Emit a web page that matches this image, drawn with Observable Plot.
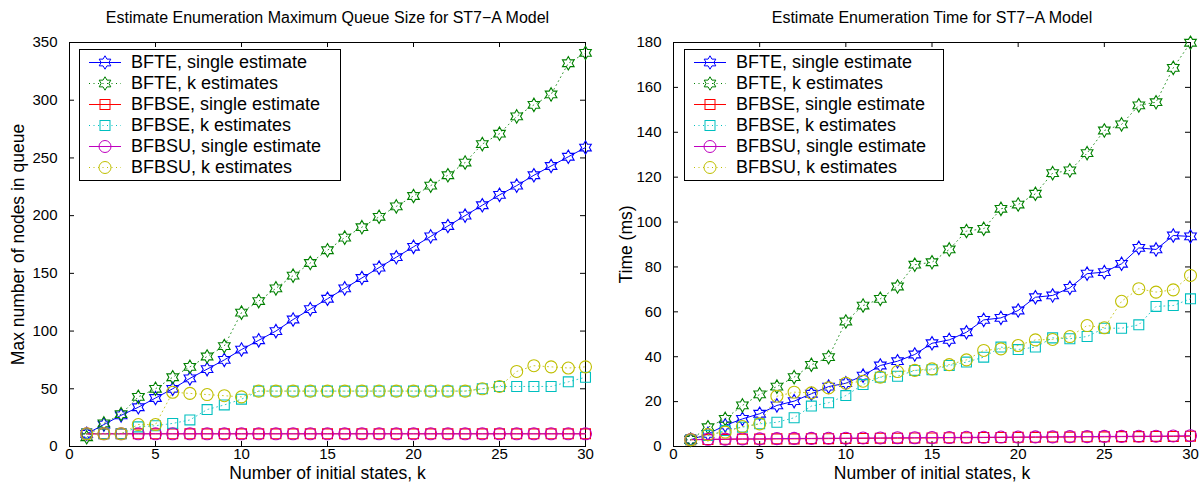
<!DOCTYPE html>
<html><head><meta charset="utf-8">
<script src="https://cdn.jsdelivr.net/npm/d3@7"></script>
<script src="https://cdn.jsdelivr.net/npm/@observablehq/plot@0.6"></script>
<style>
body{margin:0;background:#fff;}
#wrap{display:flex;width:1204px;height:493px;}
.panel{position:relative;width:602px;height:493px;}
.legend{position:absolute;border:1px solid #000;background:#fff;font-family:"Liberation Sans",Arial,sans-serif;font-size:18px;padding:2px 0;color:#000;}
.row{display:flex;align-items:center;height:21px;white-space:nowrap;}
.row svg{flex:none;margin-right:5px;}
</style></head><body><div id="wrap"><div class="panel" id="p1"></div><div class="panel" id="p2"></div></div>
<script>
// ---------- data ----------
const kValues = [1,2,3,4,5,6,7,8,9,10,11,12,13,14,15,16,17,18,19,20,21,22,23,24,25,26,27,28,29,30];
const seriesNames = ["BFTE, single estimate","BFTE, k estimates","BFBSE, single estimate","BFBSE, k estimates","BFBSU, single estimate","BFBSU, k estimates"];

// Left chart: maximum queue size
const queueBfteSingle = [11,19,27,34,42,50,59,67,75,84,92,100,110,119,128,137,146,155,164,173,182,191,200,209,218,226,235,243,251,259];
const queueBfteK      = [8,20,28,43,50,60,69,78,87,116,126,137,148,159,170,181,190,199,208,217,226,235,246,262,271,286,296,305,332,341];
const queueBfbseSingle= [11,11,11,11,11,11,11,11,11,11,11,11,11,11,11,11,11,11,11,11,11,11,11,11,11,11,11,11,11,11];
const queueBfbseK     = [11,11,11,17,18,20,23,32,36,41,48,48,48,48,48,48,48,48,48,48,48,48,48,50,52,52,52,52,56,60];
const queueBfbsuSingle= [11,11,11,11,11,11,11,11,11,11,11,11,11,11,11,11,11,11,11,11,11,11,11,11,11,11,11,11,11,11];
const queueBfbsuK     = [11,11,11,19,19,47,46,45,44,43,48,48,48,48,48,48,48,48,48,48,48,48,48,50,52,65,70,69,68,69];

// Right chart: time (ms)
const timeBfteSingle  = [3,5.6,9.4,12.3,14.6,18.3,20.2,23.5,26.7,28.2,31.6,36.1,38,41,46,47.5,50.9,56.4,57.3,60.6,66.5,67.3,70.7,77,77.7,81.4,88.5,87.8,94,93.6];
const timeBfteK       = [3,8.6,12.3,18.3,23.2,26.7,30.9,36.4,39.8,55.7,62.8,65.8,71.3,81,82.1,87.8,96,97,105.9,107.8,112.6,121.8,123,130.7,140.8,143.5,152,153.4,168.7,179.9];
const timeBfbseSingle = [3,3.1,3.2,3.3,3.3,3.4,3.4,3.5,3.5,3.6,3.6,3.7,3.7,3.8,3.8,3.9,3.9,4,4,4.1,4.1,4.2,4.2,4.3,4.3,4.4,4.4,4.5,4.5,4.6];
const timeBfbseK      = [3,4.9,7.1,8.6,10.1,10.8,12.8,18,19.5,22.7,27.6,30.9,31.3,33.9,34.2,36.1,37.6,39.8,44.3,43.2,44.3,48.4,48,49,52.7,52.7,54.2,62.4,62.8,65.8];
const timeBfbsuSingle = [3.1,3.2,3.3,3.4,3.4,3.5,3.6,3.6,3.7,3.7,3.8,3.8,3.9,3.9,4,4,4.1,4.1,4.2,4.2,4.3,4.3,4.4,4.4,4.5,4.5,4.6,4.6,4.7,4.8];
const timeBfbsuK      = [3,5.3,6.4,8.9,10.1,22.4,24.2,23.9,26.1,28.2,29.1,30.9,33.4,33.9,34.6,36.5,38.6,42.8,43.5,45,47.5,47.7,49,53.9,52.9,64.7,70.3,68.8,69.8,76.2];

const xTicks = [0,5,10,15,20,25,30];
const queueTicks = [0,50,100,150,200,250,300,350];
const timeTicks = [0,20,40,60,80,100,120,140,160,180];

// ---------- styles ----------
const hexagram = {draw(ctx, size){
  const R = Math.sqrt(size/Math.PI)*1.12, r = R/Math.sqrt(3);
  for(let i=0;i<12;i++){const a=Math.PI/6*i-Math.PI/2, rr=i%2===0?R:r;
    const x=rr*Math.cos(a), y=rr*Math.sin(a); i?ctx.lineTo(x,y):ctx.moveTo(x,y);}
  ctx.closePath();}};
const styles = [
  {color:"#0000ff", dotted:false, symbol:hexagram, r:6},
  {color:"#008000", dotted:true,  symbol:hexagram, r:6},
  {color:"#ff0000", dotted:false, symbol:"square", r:5.6},
  {color:"#00bfbf", dotted:true,  symbol:"square", r:5.6},
  {color:"#bf00bf", dotted:false, symbol:"circle", r:6},
  {color:"#bfbf00", dotted:true,  symbol:"circle", r:6}
];
const FONT = "'Liberation Sans', Arial, Helvetica, sans-serif";

function makeChart(opts){
  const W=602, H=493;
  const plotW = W-opts.ml-opts.mr, plotH = H-opts.mt-opts.mb;
  const marks = [
    Plot.frame({stroke:"#000", strokeWidth:1}),
    Plot.ruleX(opts.xTicks, {x:d=>d, insetTop:plotH-5, stroke:"#000"}),
    Plot.ruleX(opts.xTicks, {x:d=>d, insetBottom:plotH-5, stroke:"#000"}),
    Plot.ruleY(opts.yTicks, {y:d=>d, insetRight:plotW-5, stroke:"#000"}),
    Plot.ruleY(opts.yTicks, {y:d=>d, insetLeft:plotW-5, stroke:"#000"}),
    Plot.axisX({ticks:opts.xTicks, tickSize:0, tickPadding:2, label:null, fontSize:15}),
    Plot.axisY({ticks:opts.yTicks, tickSize:0, tickPadding:12, label:null, fontSize:15}),
  ];
  opts.series.forEach((vals,i)=>{
    const s = styles[i];
    const data = kValues.map((k,j)=>({k, v:vals[j]}));
    marks.push(Plot.line(data, {x:"k", y:"v", stroke:s.color, strokeWidth:1,
      strokeDasharray: s.dotted ? "1,3.5" : null, strokeOpacity: s.dotted?0.8:1}));
    marks.push(Plot.dot(data, {x:"k", y:"v", stroke:s.color, fill:"none", strokeWidth:1.1, symbol:s.symbol, r:s.r}));
  });
  marks.push(Plot.text([opts.title], {text:d=>d, frameAnchor:"top", dy:-31, fontSize:16, fill:"#000"}));
  marks.push(Plot.text([opts.xLabel], {text:d=>d, frameAnchor:"bottom", dy:32, fontSize:17.5, fill:"#000"}));
  marks.push(Plot.text([opts.yLabel], {text:d=>d, frameAnchor:"left", textAnchor:"middle", dx:opts.ylDx, rotate:-90, fontSize:17.5, fill:"#000"}));
  return Plot.plot({
    width:W, height:H, marginLeft:opts.ml, marginRight:opts.mr, marginTop:opts.mt, marginBottom:opts.mb,
    x:{domain:[0,30]}, y:{domain:opts.yDomain},
    style:{fontFamily:FONT, fontSize:"15px", background:"#fff", color:"#000", overflow:"visible"},
    marks
  });
}

function legendSymbol(s){
  const c=s.color, cx=25, cy=10.5;
  let line = `<line x1="9" y1="${cy}" x2="41" y2="${cy}" stroke="${c}" stroke-width="1" ${s.dotted?'stroke-dasharray="1,3.5"':''}/>`;
  let m;
  if(s.symbol==="circle") m=`<circle cx="${cx}" cy="${cy}" r="6" fill="none" stroke="${c}"/>`;
  else if(s.symbol==="square") m=`<rect x="${cx-5}" y="${cy-5}" width="10" height="10" fill="none" stroke="${c}"/>`;
  else { const p=d3.path(); hexagram.draw(p, Math.PI*36); m=`<path transform="translate(${cx},${cy})" d="${p}" fill="none" stroke="${c}"/>`; }
  return `<svg width="46" height="21">${line}${m}</svg>`;
}
function makeLegend(left, top, width){
  const div=document.createElement("div");
  div.className="legend";
  div.style.left=left+"px"; div.style.top=top+"px"; div.style.width=width+"px";
  div.innerHTML = seriesNames.map((n,i)=>`<div class="row">${legendSymbol(styles[i])}<span>${n}</span></div>`).join("");
  return div;
}

const p1=document.getElementById("p1"), p2=document.getElementById("p2");
p1.appendChild(makeChart({ml:69, mr:17, mt:42, mb:47, xTicks, yTicks:queueTicks, yDomain:[0,350],
  series:[queueBfteSingle,queueBfteK,queueBfbseSingle,queueBfbseK,queueBfbsuSingle,queueBfbsuK],
  title:"Estimate Enumeration Maximum Queue Size for ST7\u2212A Model", xLabel:"Number of initial states, k",
  yLabel:"Max number of nodes in queue", ylDx:-51}));
p1.appendChild(makeLegend(79, 49, 260));
p2.appendChild(makeChart({ml:71, mr:14, mt:42, mb:47, xTicks, yTicks:timeTicks, yDomain:[0,180],
  series:[timeBfteSingle,timeBfteK,timeBfbseSingle,timeBfbseK,timeBfbsuSingle,timeBfbsuK],
  title:"Estimate Enumeration Time for ST7\u2212A Model", xLabel:"Number of initial states, k",
  yLabel:"Time (ms)", ylDx:-47}));
p2.appendChild(makeLegend(82, 49, 258));
</script></body></html>
